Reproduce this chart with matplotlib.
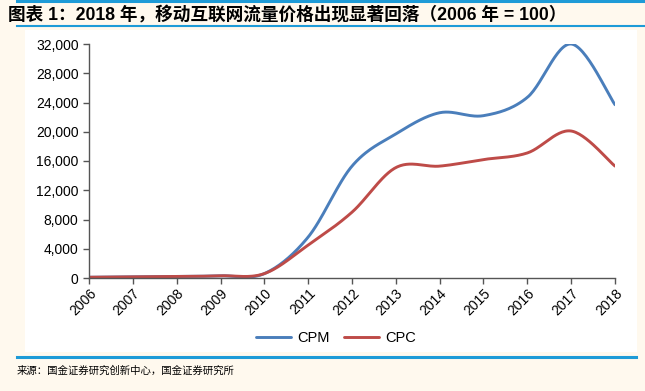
import numpy as np
import matplotlib
matplotlib.use('Agg')
import matplotlib.pyplot as plt
from matplotlib.patches import Rectangle
from matplotlib.lines import Line2D

years = ['2006', '2007', '2008', '2009', '2010', '2011', '2012',
         '2013', '2014', '2015', '2016', '2017', '2018']
cpm = [100, 150, 200, 300, 600, 5600, 15300, 19700, 22600, 22200, 24700, 32000, 23700]
cpc = [100, 150, 200, 300, 600, 4500, 9000, 15100, 15300, 16200, 17100, 20100, 15300]
yticks = [0, 4000, 8000, 12000, 16000, 20000, 24000, 28000, 32000]

title = '图表 1：2018 年，移动互联网流量价格出现显著回落（2006 年 = 100）'
source = '来源：国金证券研究创新中心，国金证券研究所'

blue = '#4A7EBB'
red = '#BE4B48'
line_blue = '#1E9BD7'
cream = '#FFF9EE'


def smooth(xs, ys, n=30):
    # excel style smoothed line (catmull-rom bezier)
    p = np.column_stack([xs, ys]).astype(float)
    p = np.vstack([p[0], p, p[-1]])
    out = []
    t = np.linspace(0, 1, n)[:, None]
    for i in range(1, len(p) - 2):
        p0, p1, p2, p3 = p[i - 1], p[i], p[i + 1], p[i + 2]
        b1 = p1 + (p2 - p0) / 6
        b2 = p2 - (p3 - p1) / 6
        seg = ((1 - t) ** 3) * p1 + 3 * ((1 - t) ** 2) * t * b1 + 3 * (1 - t) * t ** 2 * b2 + t ** 3 * p2
        out.append(seg if i == 1 else seg[1:])
    seg = np.vstack(out)
    return seg[:, 0], seg[:, 1]


plt.rcParams['font.family'] = ['Liberation Sans', 'Noto Sans CJK SC', 'DejaVu Sans']

fig = plt.figure(figsize=(6.45, 3.91), dpi=100)
fig.set_facecolor(cream)

W, H = 645.0, 391.0
# white panel
fig.patches.append(Rectangle((25 / W, 1 - 352 / H), (637 - 25) / W, (352 - 30) / H,
                             transform=fig.transFigure, facecolor='white', edgecolor='none', zorder=-10))
# blue rules
for yy, lw in [(1, 2.2), (26, 1.5), (356.5, 2.2)]:
    fig.add_artist(Line2D([17 / W, 1.0 if yy < 30 else 636 / W], [1 - yy / H, 1 - yy / H],
                          transform=fig.transFigure, color=line_blue, lw=lw))

fig.text(8 / W, 1 - 14 / H, title, fontsize=12.7, fontweight='bold',
         family=['Liberation Sans', 'Noto Sans CJK SC'], va='center', ha='left')
fig.text(17 / W, 1 - 371 / H, source, fontsize=7.5,
         family=['Noto Sans CJK SC'], va='center', ha='left')

ax = fig.add_axes([89 / W, 1 - 278 / H, (615 - 89) / W, (278 - 44) / H])
ax.set_zorder(5)
ax.set_facecolor('white')
x = np.arange(len(years))
sx, sy = smooth(x, cpm)
ax.plot(sx, sy, color=blue, lw=2.1, label='CPM', solid_capstyle='round')
sx, sy = smooth(x, cpc)
ax.plot(sx, sy, color=red, lw=2.1, label='CPC', solid_capstyle='round')

ax.set_xlim(0, len(years) - 1)
ax.set_ylim(0, 32000)
ax.set_yticks(yticks)
ax.set_yticklabels([f'{v:,}' for v in yticks], fontsize=10)
ax.set_xticks(x)
ax.set_xticklabels(years, rotation=45, ha='right', rotation_mode='anchor', fontsize=10)
for s in ['top', 'right']:
    ax.spines[s].set_visible(False)
for s in ['left', 'bottom']:
    ax.spines[s].set_color('#555555')
    ax.spines[s].set_linewidth(1)
ax.tick_params(axis='both', direction='out', length=4, color='#555555', width=1)
ax.tick_params(axis='x', pad=2)

ax.legend(loc='center', bbox_to_anchor=(0.47, -0.255), ncol=2, frameon=False,
          fontsize=10.5, handlelength=2.4, columnspacing=1.0, handletextpad=0.4)

fig.savefig('out.png', dpi=100, facecolor=cream)
